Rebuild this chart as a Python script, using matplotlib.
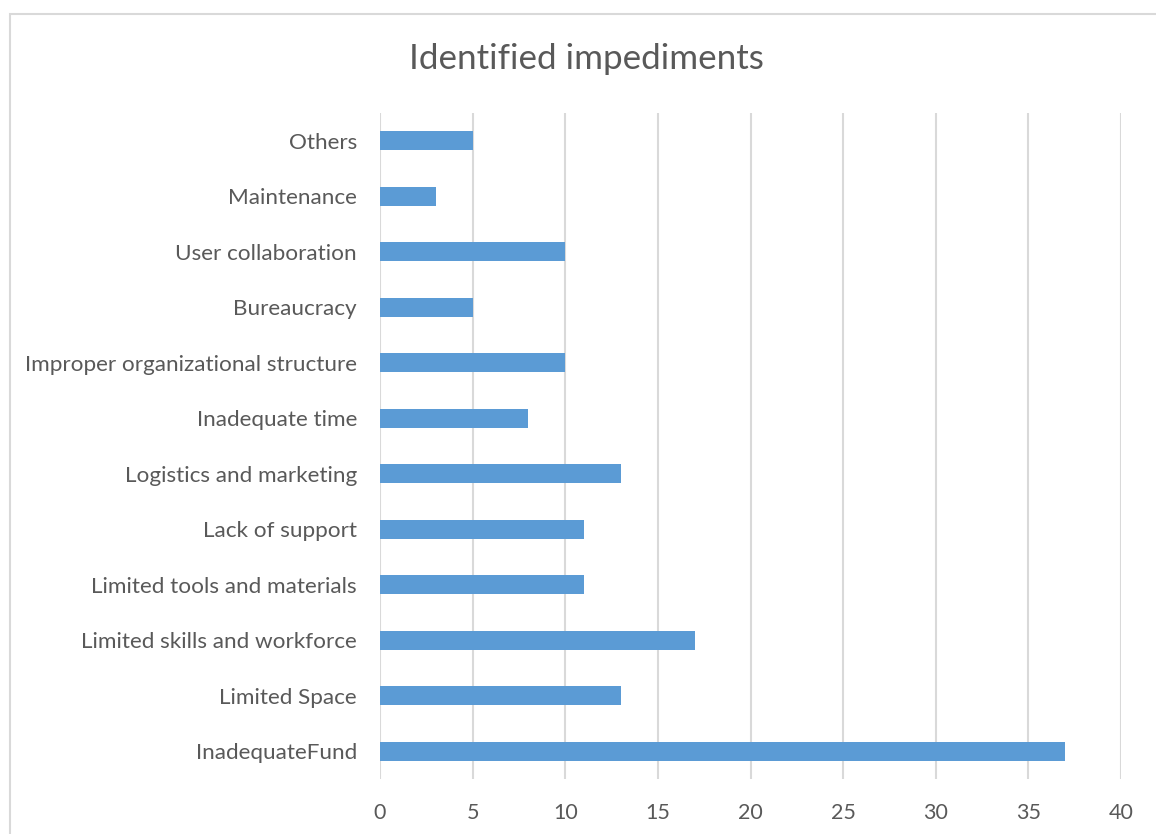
import matplotlib
matplotlib.use("Agg")
import matplotlib.pyplot as plt
from matplotlib.patches import Rectangle

categories = [
    "InadequateFund",
    "Limited Space",
    "Limited skills and workforce",
    "Limited tools and materials",
    "Lack of support",
    "Logistics and marketing",
    "Inadequate time",
    "Improper organizational structure",
    "Bureaucracy",
    "User collaboration",
    "Maintenance",
    "Others",
]
counts = [37, 13, 17, 11, 11, 13, 8, 10, 5, 10, 3, 5]
x_ticks = [0, 5, 10, 15, 20, 25, 30, 35, 40]

W, H = 1156, 834
fig = plt.figure(figsize=(W / 100, H / 100), dpi=100)
fig.patch.set_facecolor("white")

# chart border
fig.add_artist(Rectangle((9.5 / W, -0.1), 1.2, 1 - 13.5 / H + 0.1,
                         transform=fig.transFigure, fill=False,
                         edgecolor="#D9D9D9", linewidth=1.5))

ax = fig.add_axes([380 / W, 1 - 779 / H, (1121 - 380) / W, (779 - 113) / H])
ypos = list(range(len(categories)))
ax.barh(ypos, counts, height=0.35, color="#5B9BD5", zorder=3)

ax.set_xlim(0, 40)
ax.set_ylim(-0.5, len(categories) - 0.5)
ax.set_xticks(x_ticks)
ax.set_xticklabels([str(t) for t in x_ticks])
ax.set_yticks(ypos)
ax.set_yticklabels(categories)

ax.grid(axis="x", color="#D9D9D9", linewidth=1.5, zorder=0)
ax.grid(axis="y", visible=False)
for s in ax.spines.values():
    s.set_visible(False)
ax.tick_params(axis="both", length=0, labelcolor="#595959")
ax.tick_params(axis="x", pad=17, labelsize=15.5)
ax.tick_params(axis="y", pad=16.5, labelsize=16.2)
for lab in ax.get_xticklabels() + ax.get_yticklabels():
    lab.set_family("Lato")

fig.text(586 / W, 1 - 59 / H, "Identified impediments", ha="center", va="center",
         fontsize=25.2, color="#595959", family="Lato")

fig.savefig("out.png", dpi=100)
